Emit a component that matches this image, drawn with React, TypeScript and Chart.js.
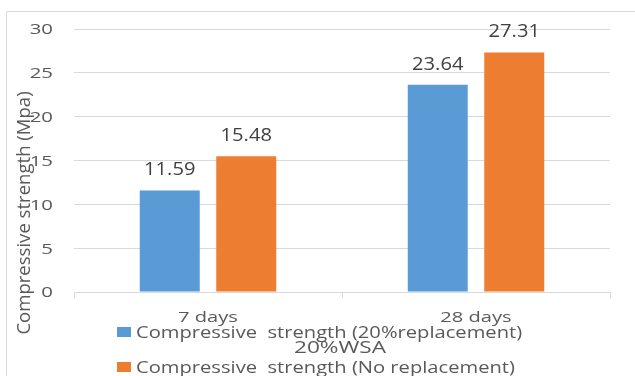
import React, { useEffect, useRef } from "react";
import { Chart, registerables } from "chart.js";

Chart.register(...registerables);

// Compressive strength by curing age
const categories = ["7 days", "28 days"];
const replacement20 = [11.59, 23.64];
const noReplacement = [15.48, 27.31];
const seriesLabels = [
  "Compressive  strength (20%replacement)",
  "Compressive  strength (No replacement)",
];
const seriesColors = ["#5b9bd5", "#ed7d31"];
const yTitle = "Compressive strength (Mpa)";
const xTitle = "20%WSA";

const FONT = '"Open Sans", "DejaVu Sans", sans-serif';
const TEXT = "#595959";
const LINE = "#d9d9d9";

// Draws text with its cap height centred on (x, cy), stretched horizontally by sx.
function drawText(
  ctx: CanvasRenderingContext2D,
  text: string,
  x: number,
  cy: number,
  size: number,
  sx: number,
  align: CanvasTextAlign,
  color: string
) {
  ctx.save();
  ctx.font = `${size}px ${FONT}`;
  ctx.fillStyle = color;
  ctx.textAlign = align;
  ctx.textBaseline = "alphabetic";
  ctx.translate(x, cy + size * 0.357);
  ctx.scale(sx, 1);
  ctx.fillText(text, 0, 0);
  ctx.restore();
}

const overlay = {
  id: "overlay",
  beforeDraw(chart: any) {
    const ctx: CanvasRenderingContext2D = chart.ctx;
    ctx.save();
    ctx.strokeStyle = LINE;
    ctx.lineWidth = 1;
    ctx.beginPath();
    ctx.moveTo(6.5, chart.height);
    ctx.lineTo(6.5, 11.5);
    ctx.lineTo(chart.width, 11.5);
    ctx.stroke();
    ctx.restore();
  },
  afterDraw(chart: any) {
    const ctx: CanvasRenderingContext2D = chart.ctx;
    const xs = chart.scales.x;
    const ys = chart.scales.y;

    // y tick labels
    ys.ticks.forEach((t: any) => {
      drawText(ctx, String(t.value), 53, ys.getPixelForValue(t.value), 15, 1.36, "right", TEXT);
    });

    // category labels
    categories.forEach((c, i) => {
      drawText(ctx, c, xs.getPixelForValue(i), 317, 15, 1.34, "center", TEXT);
    });

    // value labels above bars
    chart.data.datasets.forEach((ds: any, di: number) => {
      const meta = chart.getDatasetMeta(di);
      meta.data.forEach((bar: any, i: number) => {
        const v = ds.data[i] as number;
        drawText(ctx, v.toFixed(2), bar.x, bar.y - 21.5, 17.5, 1.15, "center", "#404040");
      });
    });

    // y axis title (rotated)
    ctx.save();
    ctx.font = `17.5px ${FONT}`;
    ctx.fillStyle = TEXT;
    ctx.textAlign = "center";
    ctx.textBaseline = "alphabetic";
    ctx.translate(30, 213);
    ctx.rotate(-Math.PI / 2);
    ctx.scale(1.06, 1);
    ctx.fillText(yTitle, 0, 0);
    ctx.restore();

    // legend
    const legendY = [332, 367];
    chart.data.datasets.forEach((ds: any, di: number) => {
      ctx.save();
      ctx.fillStyle = ds.backgroundColor;
      ctx.fillRect(117, legendY[di] - 5, 14, 10);
      ctx.restore();
      drawText(ctx, ds.label, 136, legendY[di], 15.5, 1.3, "left", TEXT);
    });

    // x axis title
    drawText(ctx, xTitle, 340, 347, 16.5, 1.37, "center", TEXT);
  },
};

export default function App() {
  const canvasRef = useRef<HTMLCanvasElement | null>(null);

  useEffect(() => {
    if (!canvasRef.current) return;
    const chart = new Chart(canvasRef.current, {
      type: "bar",
      data: {
        labels: categories,
        datasets: [
          {
            label: seriesLabels[0],
            data: replacement20,
            backgroundColor: seriesColors[0],
            barPercentage: 0.784,
            categoryPercentage: 0.571,
          },
          {
            label: seriesLabels[1],
            data: noReplacement,
            backgroundColor: seriesColors[1],
            barPercentage: 0.784,
            categoryPercentage: 0.571,
          },
        ],
      },
      options: {
        animation: false,
        responsive: true,
        maintainAspectRatio: false,
        devicePixelRatio: 1,
        layout: { padding: { left: 0, top: 29, right: 25, bottom: 0 } },
        plugins: {
          legend: { display: false },
          tooltip: { enabled: false },
          title: { display: false },
        },
        scales: {
          x: {
            ticks: { display: false },
            grid: {
              display: true,
              offset: true,
              drawOnChartArea: false,
              drawTicks: true,
              tickLength: 6,
              color: LINE,
            },
            border: { display: true, color: LINE, width: 1 },
            afterFit: (scale: any) => {
              scale.height = 84;
            },
          },
          y: {
            min: 0,
            max: 30,
            ticks: { display: false, stepSize: 5 },
            grid: { color: LINE, drawTicks: false, lineWidth: 1 },
            border: { display: false },
            afterFit: (scale: any) => {
              scale.width = 74;
            },
          },
        },
      },
      plugins: [overlay],
    });
    return () => chart.destroy();
  }, []);

  return (
    <div style={{ position: "fixed", left: 0, top: 0, width: 635, height: 376, background: "#fff" }}>
      <canvas ref={canvasRef} />
    </div>
  );
}
